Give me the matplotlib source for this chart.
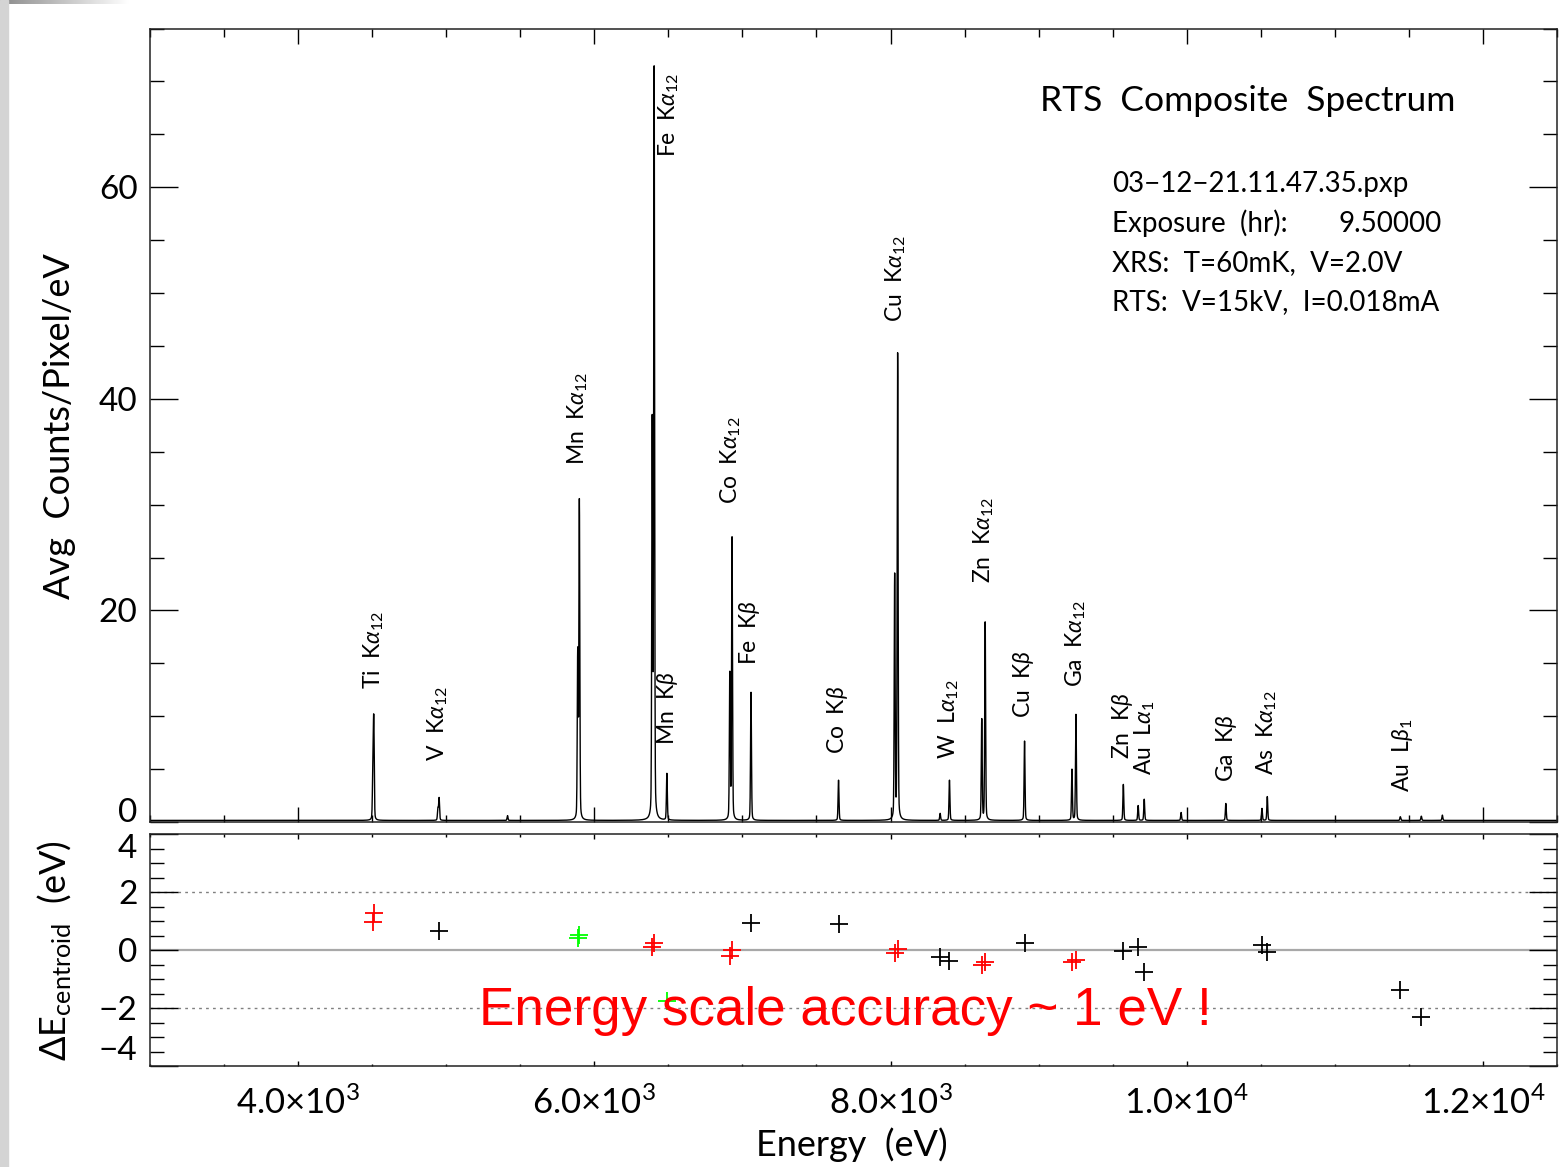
import numpy as np
import matplotlib
matplotlib.use('Agg')
from matplotlib import pyplot as plt
from matplotlib.ticker import MultipleLocator, FixedLocator, FixedFormatter

plt.rcParams['font.family'] = ['Lato', 'DejaVu Sans']
plt.rcParams['mathtext.fontset'] = 'custom'
plt.rcParams['mathtext.rm'] = 'Lato'
plt.rcParams['mathtext.it'] = 'Lato:italic'
plt.rcParams['mathtext.fallback'] = 'stixsans'

# Emission lines in the composite spectrum: energy [eV], peak height [counts/pixel/eV]
line_E = [4505, 4511, 4944, 4952, 5414, 5888, 5899, 6391, 6404, 6490,
          6915, 6930, 7058, 7649, 8028, 8048, 8335, 8398, 8616, 8639,
          8905, 9225, 9252, 9572, 9672, 9713, 9962, 10264, 10508, 10544,
          11442, 11584, 11726]
line_h = [4.7, 9.2, 1.1, 2.1, 0.45, 15.6, 30.0, 37.0, 70.6, 4.4,
          13.7, 26.6, 12.1, 3.8, 23.0, 44.0, 0.66, 3.8, 9.5, 18.7,
          7.5, 4.8, 10.0, 3.4, 1.4, 2.0, 0.75, 1.6, 1.13, 2.25,
          0.35, 0.4, 0.5]
continuum = 0.15   # counts/pixel/eV
sigma = 3.0        # detector resolution (gaussian sigma), eV
gamma = 5.0        # lorentzian half width of the line wings, eV
f_wing = 0.15      # fraction of peak height in the wings

# Line identifications: label, energy of label, bottom of label [counts]
lab_text = [r'Ti  K$\alpha_{12}$', r'V  K$\alpha_{12}$', r'Mn  K$\alpha_{12}$',
            r'Fe  K$\alpha_{12}$', r'Mn  K$\beta$', r'Co  K$\alpha_{12}$', r'Fe  K$\beta$',
            r'Co  K$\beta$', r'Cu  K$\alpha_{12}$', r'W  L$\alpha_{12}$',
            r'Zn  K$\alpha_{12}$', r'Cu  K$\beta$', r'Ga  K$\alpha_{12}$', r'Zn  K$\beta$',
            r'Au  L$\alpha_1$', r'Ga  K$\beta$', r'As  K$\alpha_{12}$', r'Au  L$\beta_1$']
lab_E = [4513, 4945, 5891, 6505, 6495, 6924, 7045, 7639, 8038, 8396,
         8632, 8895, 9253, 9564, 9719, 10266, 10543, 11454]
lab_y = [12.6, 5.8, 33.7, 62.9, 7.3, 30.1, 14.8, 6.4, 47.3, 6.0,
         22.6, 9.8, 12.8, 6.0, 4.4, 3.8, 4.4, 2.8]

# Centroid residuals [eV]: red = K-alpha calibration lines, green = Mn, black = others
red_E = [4505, 4511, 6391, 6404, 6915, 6930, 8028, 8048, 8616, 8639, 9225, 9252]
red_dE = [0.98, 1.28, 0.09, 0.25, -0.20, 0.00, -0.11, 0.03, -0.50, -0.42, -0.41, -0.34]
green_E = [5888, 5899, 6490]
green_dE = [0.40, 0.52, -1.75]
black_E = [4952, 7058, 7649, 8335, 8398, 8905, 9572, 9672, 9713, 10508, 10544, 11442, 11584]
black_dE = [0.66, 0.92, 0.90, -0.25, -0.38, 0.25, -0.02, 0.11, -0.77, 0.17, -0.08, -1.38, -2.30]

xtick_vals = [4000, 6000, 8000, 10000, 12000]
xtick_labs = [r'4.0$\times$10$^{3}$', r'6.0$\times$10$^{3}$', r'8.0$\times$10$^{3}$',
              r'1.0$\times$10$^{4}$', r'1.2$\times$10$^{4}$']

# build the spectrum on a 1 eV grid
E = np.arange(3000., 12500.5, 1.0)
spec = np.full_like(E, continuum)
for e0, h0 in zip(line_E, line_h):
    u = E - e0
    spec += h0 * ((1 - f_wing) * np.exp(-0.5 * (u / sigma) ** 2)
                  + f_wing / (1 + (u / gamma) ** 2))

W, H = 1560., 1167.
fig = plt.figure(figsize=(W / 100, H / 100), dpi=100)

# slide decoration down the left edge
fig.patches.append(plt.Rectangle((0, 0), 8 / W, 1, transform=fig.transFigure,
                                 color='#d4d4d4', zorder=0))
gax = fig.add_axes([0, 1 - 4 / H, 130 / W, 4 / H])
gax.imshow(np.linspace(0, 1, 64)[None, :], cmap='gray', vmin=-1.2, vmax=1,
           aspect='auto')
gax.axis('off')

ax = fig.add_axes([150 / W, 1 - 822 / H, 1407 / W, 793.5 / H])
ax2 = fig.add_axes([150 / W, 1 - 1066 / H, 1407 / W, 232 / H])

for a in (ax, ax2):
    for s in a.spines.values():
        s.set_linewidth(1.1)
        s.set_color('#222222')
    a.set_xlim(3000, 12500)
    a.xaxis.set_major_locator(FixedLocator(xtick_vals))
    a.xaxis.set_minor_locator(MultipleLocator(500))

# ---- top panel: spectrum ----
ax.plot(E, spec, color='k', lw=1.0)
ax.set_ylim(0, 75)
ax.yaxis.set_major_locator(FixedLocator([0, 20, 40, 60]))
ax.yaxis.set_major_formatter(FixedFormatter(['', '20', '40', '60']))
ax.yaxis.set_minor_locator(MultipleLocator(5))
ax.tick_params(axis='x', which='major', direction='in', length=10.8, width=1,
               top=True, bottom=True, labelbottom=False)
ax.tick_params(axis='x', which='minor', direction='in', length=5.4, width=1,
               top=True, bottom=True)
ax.tick_params(axis='y', which='major', direction='in', length=20, width=1,
               left=True, right=True, labelsize=24, pad=9)
ax.tick_params(axis='y', which='minor', direction='in', length=10, width=1,
               left=True, right=True)
# the zero label sits on the axis rather than centred on it
ax.text(-13 / 1407, 0, '0', transform=ax.get_yaxis_transform(),
        ha='right', va='baseline', fontsize=24)

for t, e, y in zip(lab_text, lab_E, lab_y):
    ax.text(e, y, t, rotation=90, ha='center', va='bottom', fontsize=16.5)

fig.text(1040 / W, 1 - 110.7 / H, 'RTS  Composite  Spectrum', fontsize=25.5,
         va='baseline', ha='left')
info = ['03\u221212\u221221.11.47.35.pxp', 'Exposure  (hr):',
        'XRS:  T=60mK,  V=2.0V', 'RTS:  V=15kV,  I=0.018mA']
for i, s in enumerate(info):
    fig.text(1112 / W, 1 - (192.4 + 39.3 * i) / H, s, fontsize=20,
             va='baseline', ha='left')
fig.text(1339 / W, 1 - 231.7 / H, '9.50000', fontsize=20, va='baseline', ha='left')

fig.text(60 / W, 1 - 426.5 / H, 'Avg  Counts/Pixel/eV', rotation=90, fontsize=26,
         ha='center', va='center')

# ---- bottom panel: centroid residuals ----
ax2.axhline(0, color='#a8a8a8', lw=1.6, zorder=1)
for yy in (-2, 2):
    ax2.axhline(yy, color='#808080', lw=1.0, ls=(0, (2, 3)), zorder=1)
ax2.plot(red_E, red_dE, '+', color='#ff0000', ms=12.5, mew=1.3, zorder=3)
ax2.plot(green_E, green_dE, '+', color='#00ff00', ms=12.5, mew=1.3, zorder=3)
ax2.plot(black_E, black_dE, '+', color='k', ms=12.5, mew=1.3, zorder=3)

ax2.set_ylim(-4, 4)
ax2.yaxis.set_major_locator(FixedLocator([-4, -2, 0, 2, 4]))
ax2.yaxis.set_major_formatter(FixedFormatter(['', '\u22122', '0', '2', '']))
ax2.yaxis.set_minor_locator(MultipleLocator(0.5))
ax2.xaxis.set_major_formatter(FixedFormatter(xtick_labs))
ax2.tick_params(axis='x', which='major', direction='in', length=3.4, width=1,
                top=True, bottom=True, labelsize=25, pad=14)
ax2.tick_params(axis='x', which='minor', direction='in', length=1.8, width=1,
                top=True, bottom=True)
ax2.tick_params(axis='y', which='major', direction='in', length=20, width=1,
                left=True, right=True, labelsize=24, pad=9)
ax2.tick_params(axis='y', which='minor', direction='in', length=10, width=1,
                left=True, right=True)
for yy, s in ((3.5, '4'), (-3.5, '\u22124')):
    ax2.text(-13 / 1407, yy, s, transform=ax2.get_yaxis_transform(),
             ha='right', va='center', fontsize=24)

fig.text(55 / W, 1 - 951 / H, r'$\Delta$E$_{\mathrm{centroid}}$  (eV)', rotation=90,
         fontsize=26, ha='center', va='center')
fig.text(851.5 / W, 1 - 1145 / H, 'Energy  (eV)', fontsize=26, ha='center', va='center')

fig.text(479 / W, 1 - 1025 / H, 'Energy scale accuracy ~ 1 eV !', color='#ff0000',
         family='Liberation Sans', fontsize=38.2, va='baseline',
         ha='left', zorder=10)

fig.savefig('out.png', dpi=100)
